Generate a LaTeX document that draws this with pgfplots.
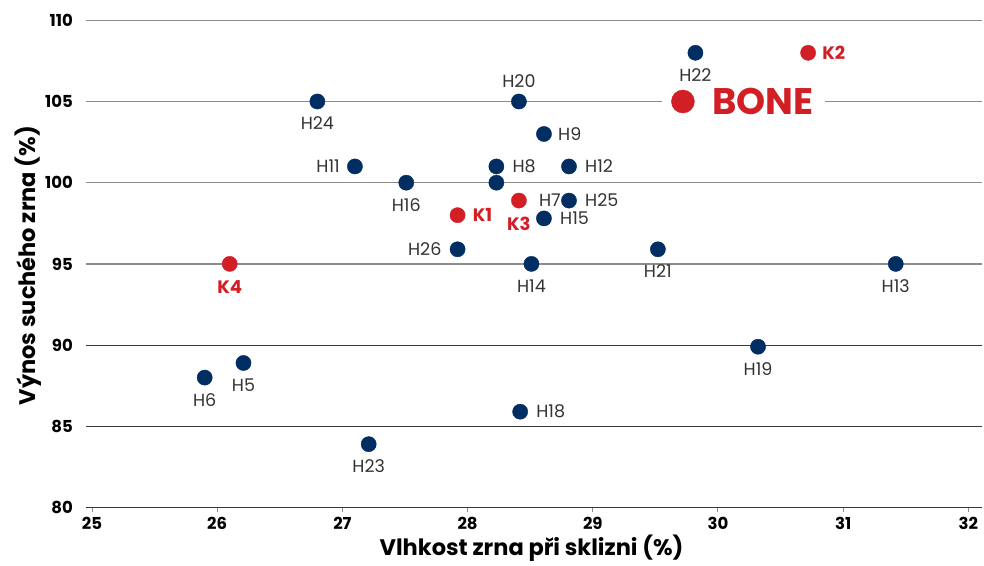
\documentclass[border=0pt]{standalone}
\usepackage{fontspec}
\setmainfont{Poppins}
\usepackage{pgfplots}
\usepackage{pgfplotstable}
\pgfplotsset{compat=1.18}
\definecolor{navy}{HTML}{002D62}
\definecolor{kred}{HTML}{D21F26}
\definecolor{lgrid}{HTML}{8C8C8C}
\definecolor{dgrid}{HTML}{3A3A3A}
\definecolor{labgray}{HTML}{333333}

% hybrids (blue)
\pgfplotstableread{
x      y
29.82  108.0
28.41  105.0
26.80  105.0
28.61  103.0
27.10  101.0
28.23  101.0
28.81  101.0
27.51  100.0
28.23  100.0
28.81  98.9
28.61  97.8
27.92  95.9
29.52  95.9
28.51  95.0
31.42  95.0
30.32  89.9
26.21  88.9
25.90  88.0
28.42  85.9
27.21  83.9
}\hybrids

% controls (red)
\pgfplotstableread{
x      y
27.92  98.0
30.72  108.0
28.41  98.9
26.10  95.0
}\controls

\pgfplotstableread{
x      y
29.72  105.0
}\bone

\newcommand{\lb}[6]{\node[anchor=#3, xshift=#4, yshift=#5, inner sep=0pt, text=labgray,
  font=\fontsize{17.5}{20}\selectfont] at (axis cs:#1,#2) {#6};}
\newcommand{\lk}[6]{\node[anchor=#3, xshift=#4, yshift=#5, inner sep=0pt, text=kred,
  font=\fontsize{18}{20}\selectfont\bfseries] at (axis cs:#1,#2) {#6};}

\begin{document}
\begin{tikzpicture}
\begin{axis}[
    scale only axis,
    width=895.5pt,
    height=487.2pt,
    xmin=24.952, xmax=32.105,
    ymin=80, ymax=110,
    clip=false,
    axis lines*=left,
    y axis line style={draw=none},
    x axis line style={draw=dgrid, line width=1.4pt},
    xtick={25,26,...,32},
    ytick={80,95,100,105,110},
    extra y ticks={85,90},
    extra y tick style={grid style={dgrid, line width=1.2pt}},
    ymajorgrids=true,
    grid style={lgrid, line width=1.2pt},
    tick align=outside,
    major tick length=4pt,
    xtick style={draw=lgrid, line width=1pt},
    ytick style={draw=none},
    /pgf/number format/assume math mode=true,
    ticklabel style={font=\fontsize{16.5}{18}\selectfont\bfseries, text=black, inner sep=0pt},
    xticklabel style={anchor=north, yshift=-5pt},
    yticklabel style={anchor=east, xshift=-9pt},
    xlabel={Vlhkost zrna při sklizni (\%)},
    ylabel={Výnos suchého zrna (\%)},
    label style={font=\fontsize{22.5}{24}\selectfont\bfseries, text=black},
    xlabel style={at={(axis description cs:0.4975,-0.0831)}, anchor=center},
    ylabel style={at={(axis description cs:-0.0648,0.4965)}, anchor=center},
]
\coordinate (sw) at (rel axis cs:0,0);
% white gap behind the BONE label
\fill[white] (axis cs:29.553,104.4) rectangle (axis cs:30.855,105.6);

\addplot[navy, only marks, mark=*, mark size=7.6pt, mark options={fill=navy, draw=none}]
  table[x=x, y=y] {\hybrids};
\addplot[kred, only marks, mark=*, mark size=7.6pt, mark options={fill=kred, draw=none}]
  table[x=x, y=y] {\controls};
\addplot[kred, only marks, mark=*, mark size=11.5pt, mark options={fill=kred, draw=none}]
  table[x=x, y=y] {\bone};

% labels
\lb{29.82}{108}{center}{0pt}{-22pt}{H22}
\lb{28.41}{105}{center}{0pt}{20pt}{H20}
\lb{26.80}{105}{center}{0pt}{-22pt}{H24}
\lb{28.61}{103}{west}{14pt}{0pt}{H9}
\lb{27.10}{101}{east}{-15pt}{0pt}{H11}
\lb{28.23}{101}{west}{16pt}{0pt}{H8}
\lb{28.81}{101}{west}{16pt}{0pt}{H12}
\lb{27.51}{100}{center}{0pt}{-22pt}{H16}
\lb{28.41}{98.9}{west}{20pt}{0pt}{H7}
\lb{28.81}{98.9}{west}{16pt}{0pt}{H25}
\lb{28.61}{97.8}{west}{16pt}{0pt}{H15}
\lb{27.92}{95.9}{east}{-16pt}{0pt}{H26}
\lb{29.52}{95.9}{center}{0pt}{-22pt}{H21}
\lb{28.51}{95}{center}{0pt}{-22pt}{H14}
\lb{31.42}{95}{center}{0pt}{-22pt}{H13}
\lb{30.32}{89.9}{center}{0pt}{-22pt}{H19}
\lb{26.21}{88.9}{center}{0pt}{-22pt}{H5}
\lb{25.90}{88}{center}{0pt}{-22pt}{H6}
\lb{28.42}{85.9}{west}{16pt}{0pt}{H18}
\lb{27.21}{83.9}{center}{0pt}{-22pt}{H23}

\lk{27.92}{98}{west}{15pt}{0pt}{K1}
\lk{30.72}{108}{west}{14pt}{0pt}{K2}
\lk{28.41}{98.9}{center}{0pt}{-23pt}{K3}
\lk{26.10}{95}{center}{0pt}{-23pt}{K4}
\node[anchor=west, xshift=29pt, inner sep=0pt, text=kred,
  font=\fontsize{37}{40}\selectfont\bfseries] at (axis cs:29.72,105) {BONE};
\end{axis}
\pgfresetboundingbox
\path[use as bounding box] (sw) ++(-86pt,-57.5pt) rectangle ++(984pt,565pt);
\end{tikzpicture}
\end{document}
